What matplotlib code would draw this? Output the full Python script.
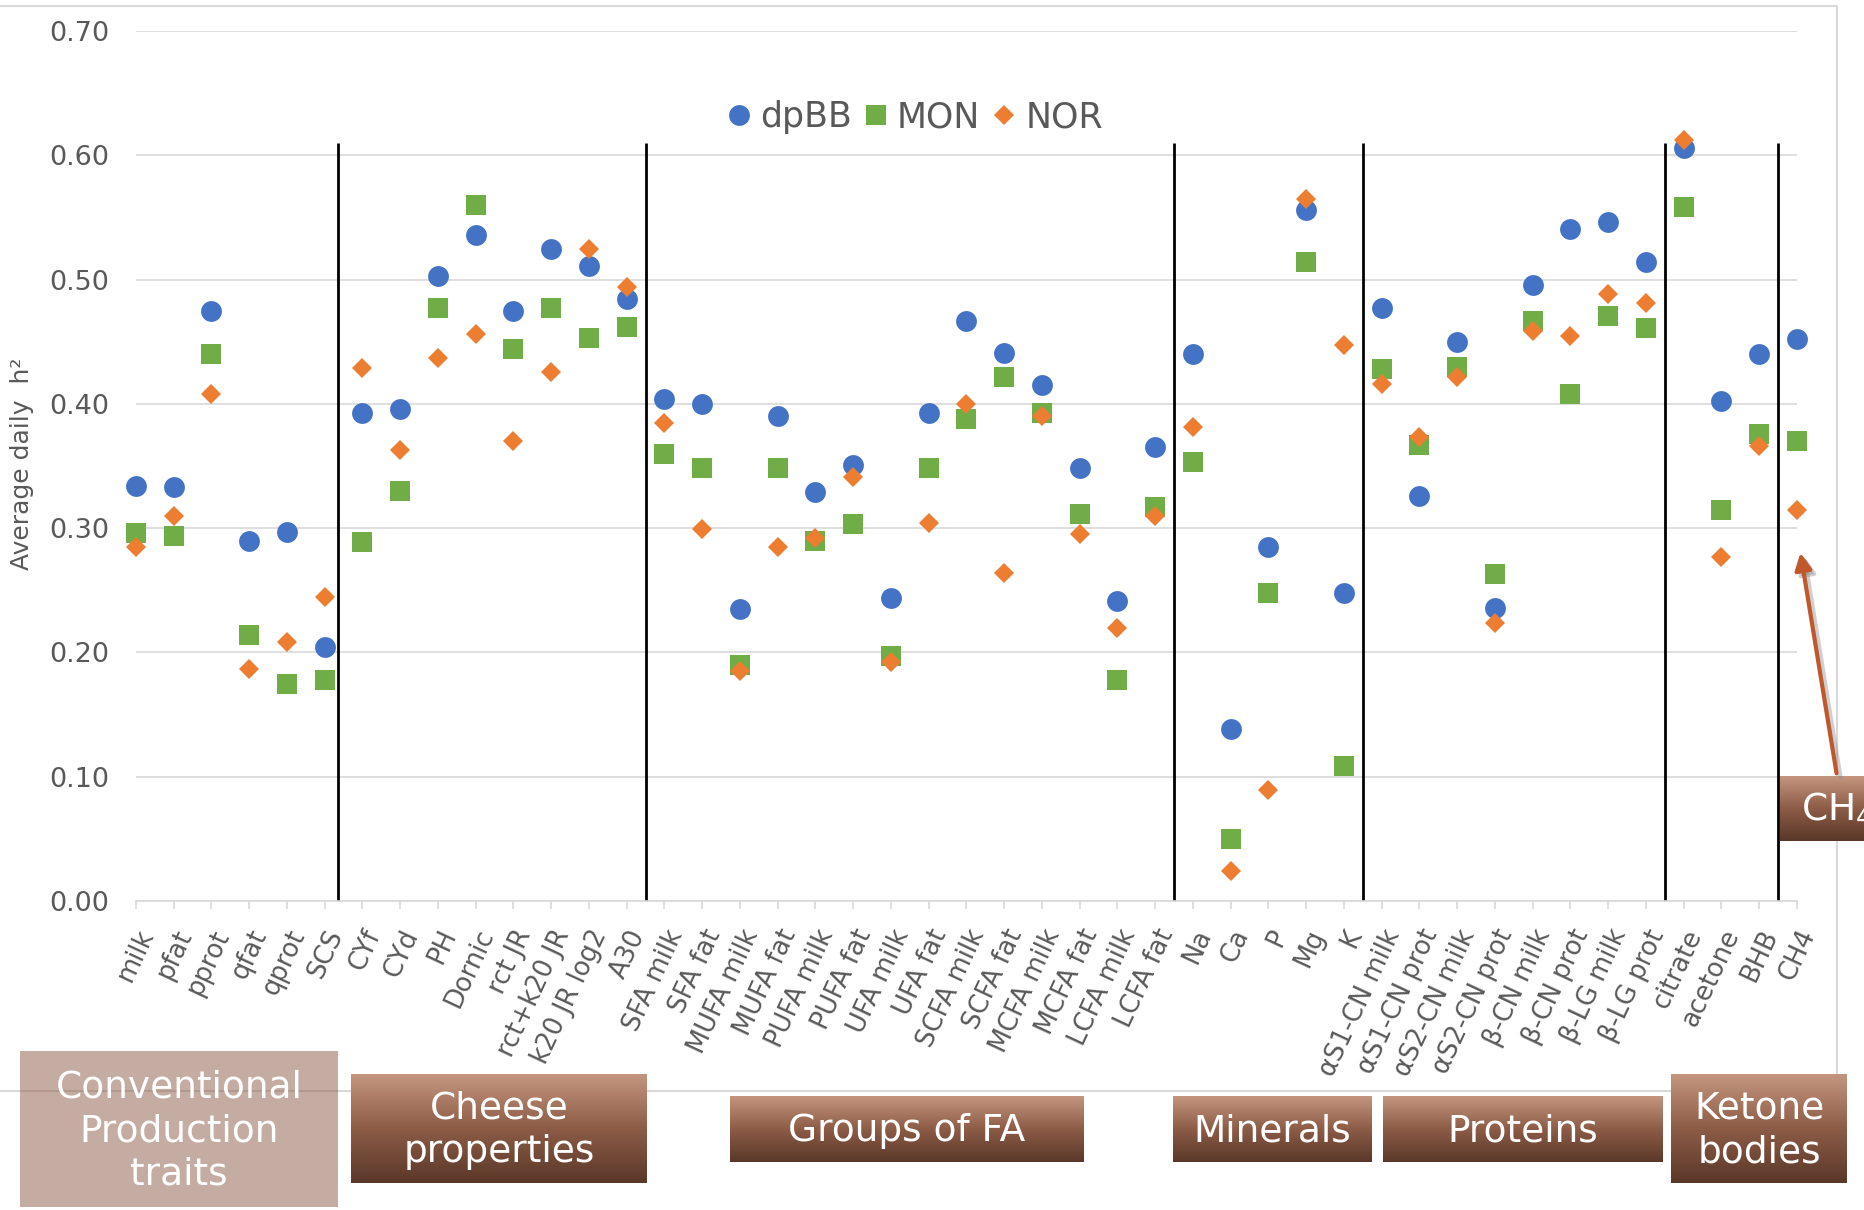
import matplotlib.pyplot as plt
import numpy as np
from matplotlib.colors import LinearSegmentedColormap

traits = ["milk", "pfat", "pprot", "qfat", "qprot", "SCS",
          "CYf", "CYd", "PH", "Dornic", "rct JR", "rct+k20 JR", "k20 JR log2", "A30",
          "SFA milk", "SFA fat", "MUFA milk", "MUFA fat", "PUFA milk", "PUFA fat",
          "UFA milk", "UFA fat", "SCFA milk", "SCFA fat", "MCFA milk", "MCFA fat",
          "LCFA milk", "LCFA fat",
          "Na", "Ca", "P", "Mg", "K",
          "αS1-CN milk", "αS1-CN prot", "αS2-CN milk", "αS2-CN prot",
          "β-CN milk", "β-CN prot", "β-LG milk", "β-LG prot",
          "citrate", "acetone", "BHB", "CH4"]

dpbb = [0.334, 0.333, 0.475, 0.290, 0.297, 0.204,
        0.393, 0.396, 0.503, 0.536, 0.475, 0.525, 0.511, 0.484,
        0.404, 0.400, 0.235, 0.390, 0.329, 0.351, 0.244, 0.393, 0.467, 0.441,
        0.415, 0.348, 0.241, 0.365,
        0.440, 0.138, 0.285, 0.556, 0.248,
        0.477, 0.326, 0.450, 0.236, 0.496, 0.541, 0.546, 0.514,
        0.606, 0.402, 0.440, 0.452]

mon = [0.296, 0.294, 0.440, 0.214, 0.175, 0.178,
       0.289, 0.330, 0.477, 0.560, 0.444, 0.477, 0.453, 0.462,
       0.360, 0.348, 0.190, 0.348, 0.290, 0.303, 0.197, 0.348, 0.388, 0.422,
       0.393, 0.311, 0.178, 0.317,
       0.353, 0.050, 0.248, 0.514, 0.109,
       0.428, 0.367, 0.430, 0.263, 0.467, 0.408, 0.471, 0.461,
       0.558, 0.315, 0.376, 0.370]

nor = [0.285, 0.310, 0.408, 0.187, 0.208, 0.245,
       0.429, 0.363, 0.437, 0.456, 0.370, 0.426, 0.525, 0.494,
       0.385, 0.299, 0.185, 0.285, 0.292, 0.341, 0.192, 0.304, 0.400, 0.264,
       0.390, 0.295, 0.220, 0.310,
       0.381, 0.024, 0.089, 0.565, 0.447,
       0.416, 0.373, 0.422, 0.224, 0.459, 0.455, 0.488, 0.481,
       0.612, 0.277, 0.366, 0.315]

separators = [5.35, 13.5, 27.5, 32.5, 40.5, 43.5]

group_names = ["Conventional\nProduction\ntraits", "Cheese\nproperties", "Groups of FA",
               "Minerals", "Proteins", "Ketone\nbodies"]

W, H = 1865, 1210
fig = plt.figure(figsize=(W / 100, H / 100), dpi=100)
ax = fig.add_axes([136 / W, 1 - 901 / H, (1797 - 136) / W, (901 - 31) / H])

x = np.arange(len(traits))
ax.plot(x, dpbb, 'o', ms=15, mew=0, color='#4472C4', label='dpBB', zorder=3, clip_on=False)
ax.plot(x, mon, 's', ms=14.5, mew=0, color='#70AD47', label='MON', zorder=4, clip_on=False)
ax.plot(x, nor, 'D', ms=10.5, mew=0, color='#ED7D31', label='NOR', zorder=5, clip_on=False)

ax.vlines(separators, 0, 0.61, color='black', lw=2, zorder=2)

ax.set_xlim(0, len(traits) - 1)
ax.set_ylim(0, 0.70)
ax.set_yticks(np.arange(0, 0.71, 0.1))
ax.set_yticklabels(["%.2f" % v for v in np.arange(0, 0.71, 0.1)])
ax.grid(axis='y', color='#D9D9D9', lw=1.2)
ax.set_axisbelow(True)
for s in ['left', 'right', 'top']:
    ax.spines[s].set_visible(False)
ax.spines['bottom'].set_color('#D9D9D9')
ax.spines['bottom'].set_linewidth(1.2)
ax.tick_params(axis='y', length=0, pad=19, labelsize=19.5, labelcolor='#595959')
ax.tick_params(axis='x', length=5.5, width=1.2, color='#D9D9D9', pad=12,
               labelsize=18.5, labelcolor='#595959')
ax.set_xticks(x)
ax.set_xticklabels(traits, rotation=65, ha='right', rotation_mode='anchor')

fig.text(22 / W, 1 - 464 / H, 'Average daily  h²', rotation=90, ha='center', va='center',
         fontsize=18, color='#595959')

ax.legend(loc='center', bbox_to_anchor=(913 / W, 1 - 117 / H), bbox_transform=fig.transFigure,
          ncol=3, frameon=False, fontsize=25, handlelength=0.9, handletextpad=0.15,
          columnspacing=0.25, labelcolor='#595959')

# overlay for the group boxes, frame and CH4 callout
ov = fig.add_axes([0, 0, 1, 1])
ov.set_zorder(5)
ov.axis('off')

ov.plot([0, 1837, 1837, 0], [6, 6, 1091, 1091], color='#D9D9D9', lw=1.5, zorder=1)

brown = LinearSegmentedColormap.from_list('brown', ['#C4957F', '#8C5C47', '#5A3829'])
grad = np.linspace(0, 1, 200).reshape(-1, 1)

boxes = [(20, 1051, 338, 1207), (351, 1074, 647, 1183), (730, 1096, 1084, 1162),
         (1173, 1096, 1372, 1162), (1383, 1096, 1663, 1162), (1671, 1074, 1847, 1183)]
for i, (x0, y0, x1, y1) in enumerate(boxes):
    if i == 0:
        ov.add_patch(plt.Rectangle((x0, y0), x1 - x0, y1 - y0, color='#8A5A46', alpha=0.5,
                                   lw=0, zorder=2))
    else:
        ov.imshow(grad, extent=(x0, x1, y1, y0), cmap=brown, aspect='auto', zorder=2)
    ov.text((x0 + x1) / 2, (y0 + y1) / 2 + 2, group_names[i], ha='center', va='center',
            fontsize=27, color='white', linespacing=1.27, zorder=3)

# CH4 callout
ov.imshow(grad, extent=(1780, 1900, 841, 776), cmap=brown, aspect='auto', zorder=2)
ov.text(1801, 810, 'CH$_4$', ha='left', va='center', fontsize=27, color='white', zorder=3)
ov.annotate('', xy=(1804, 554), xytext=(1841, 780),
            arrowprops=dict(arrowstyle='-|>', color='#888888', alpha=0.4, lw=3, mutation_scale=25))
ov.annotate('', xy=(1800, 550), xytext=(1837, 776),
            arrowprops=dict(arrowstyle='-|>', color='#C0582C', lw=3, mutation_scale=25))

ov.set_xlim(0, W)
ov.set_ylim(H, 0)

fig.savefig('out.png', dpi=100)
